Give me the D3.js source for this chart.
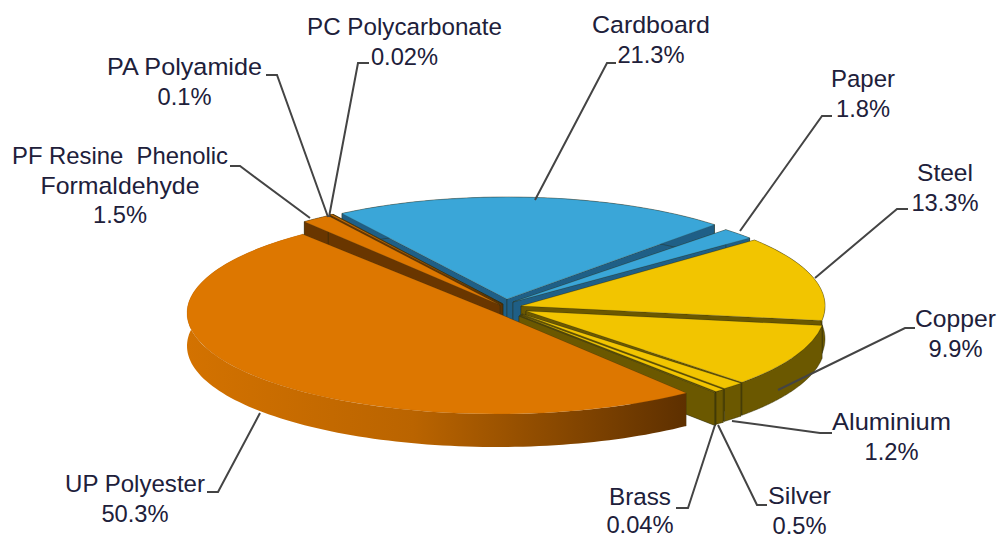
<!DOCTYPE html>
<html><head><meta charset="utf-8">
<script src="https://cdn.jsdelivr.net/npm/d3@7"></script>
<style>html,body{margin:0;padding:0;background:#fff}svg{display:block}text{font-family:"Liberation Sans",Arial,sans-serif;font-size:23.7px;fill:#20203a}</style>
</head><body><svg id="c" width="997" height="538"></svg>
<script>
const categories=["Cardboard","Paper","Steel","Copper","Aluminium","Silver","Brass","UP Polyester","PF Resine  Phenolic Formaldehyde","PA Polyamide","PC Polycarbonate"];
const values=[21.3,1.8,13.3,9.9,1.2,0.5,0.04,50.3,1.5,0.1,0.02];
const valueLabels=["21.3%","1.8%","13.3%","9.9%","1.2%","0.5%","0.04%","50.3%","1.5%","0.1%","0.02%"];
const topColors=["#3aa6d8","#3aa6d8","#f2c500","#f2c500","#f2c500","#f2c500","#f2c500","#dd7700","#dd7700","#dd7700","#dd7700"];
const wallColors=["#1f5f86","#1f5f86","#6b5800","#6b5800","#6b5800","#6b5800","#6b5800","#693600","#693600","#693600","#693600"];
// layout
const shiftX=[507,513,521,526,522,520,519,497,500,502,503];
const shiftY=[299,302,306,311,314,315,316,313,305,304,304];
const radiusX=[303,308,304,299,303,304,305,310,312,312,312];
const radiusY=[102,100,103,103,100,100,100,101,107,107,107];
const startTrim=[0,0,0,0,0,0,0,2.4,0,0,0];
const endTrim=[0.5,0,0,0,0,0,0,0,0,0,0];
const labelLines=[["Cardboard"],["Paper"],["Steel"],["Copper"],["Aluminium"],["Silver"],["Brass"],["UP Polyester"],["PF Resine  Phenolic","Formaldehyde"],["PA Polyamide"],["PC Polycarbonate"]];
const lineWidths=[[118],[64],[56],[81],[119],[63],[62],[140],[216,159],[155],[195]];
const labelX=[651,863,945,955.5,891.5,799.5,640,135,120,184.5,404.5];
const labelY=[33,87,181,327,430,504,505,492,164,75,35];
const lineGaps=[29.5,29.5,29.5,29.5,29.5,29.5,27.9,29.5,29.5,29.5,29.5];
const leaders=[
 [[535,200],[607,63],[616,63]],[[740,231],[822,116],[832,116]],[[815,278],[897,209],[908,209]],
 [[778,390],[905,328],[915,328]],[[732,421],[820,433],[832,433]],[[718,425],[757,505],[767,505]],
 [[715,425],[688,508],[676,508]],[[260,413],[218,492],[207,492]],[[310,218],[240,166],[230,166]],
 [[328,217],[277,75],[266,75]],[[329,217],[358,63],[369,63]]];
const depth=33;
const svg=d3.select("#c");
const grad=svg.append("defs").append("linearGradient").attr("id","upWall").attr("gradientUnits","userSpaceOnUse").attr("x1",187).attr("x2",690).attr("y1",0).attr("y2",0);
grad.append("stop").attr("offset",0).attr("stop-color","#d37200");
grad.append("stop").attr("offset",0.45).attr("stop-color","#ba6400");
grad.append("stop").attr("offset",1).attr("stop-color","#5c2f00");
const rad=Math.PI/180;
const pie=d3.pie().sort(null).value(d=>d).startAngle(-33*rad).endAngle(327*rad);
const arcs=pie(values);
const arc=d3.arc().innerRadius(0);
const line=d3.line();
const order=[0,1,10,9,8,2,3,4,5,6,7];
order.forEach(i=>{
  const a0=arcs[i].startAngle+startTrim[i]*rad,a1=arcs[i].endAngle-endTrim[i]*rad;
  const cx=shiftX[i],cy=shiftY[i],rx=radiusX[i],ry=radiusY[i];
  const px=t=>cx+rx*Math.sin(t),py=t=>cy-ry*Math.cos(t);
  const g=svg.append("g");
  const wall=i===7?"url(#upWall)":wallColors[i];
  [a0,a1].forEach(t=>{
    g.append("path").attr("d",line([[cx,cy],[px(t),py(t)],[px(t),py(t)+depth],[cx,cy+depth]])+"Z").attr("fill",wallColors[i]).attr("stroke","#2a2a10").attr("stroke-width",0.4);
  });
  const ts=d3.range(0,121).map(k=>a0+(a1-a0)*k/120);
  const rim=ts.map(t=>[px(t),py(t)]).concat(ts.slice().reverse().map(t=>[px(t),py(t)+depth]));
  g.append("path").attr("d",line(rim)+"Z").attr("fill",wall).attr("stroke",i===7?"none":"#2a2a10").attr("stroke-width",0.4);
  g.append("path").attr("transform",`translate(${cx},${cy}) scale(1,${ry/rx})`)
   .attr("d",arc({outerRadius:rx,startAngle:a0,endAngle:a1}))
   .attr("fill",topColors[i]).attr("stroke",i===7?"#a85a00":"#3a3a20").attr("stroke-opacity",0.4).attr("stroke-width",0.5).attr("vector-effect","non-scaling-stroke");
});
leaders.forEach(p=>svg.append("path").attr("d",line(p)).attr("fill","none").attr("stroke","#444").attr("stroke-width",2));
categories.forEach((c,i)=>{
  labelLines[i].forEach((s,k)=>svg.append("text").attr("x",labelX[i]).attr("y",labelY[i]+k*lineGaps[i]).attr("text-anchor","middle").attr("textLength",lineWidths[i][k]).attr("lengthAdjust","spacingAndGlyphs").style("white-space","pre").text(s));
  svg.append("text").attr("x",labelX[i]).attr("y",labelY[i]+labelLines[i].length*lineGaps[i]).attr("text-anchor","middle").text(valueLabels[i]);
});
</script></body></html>
